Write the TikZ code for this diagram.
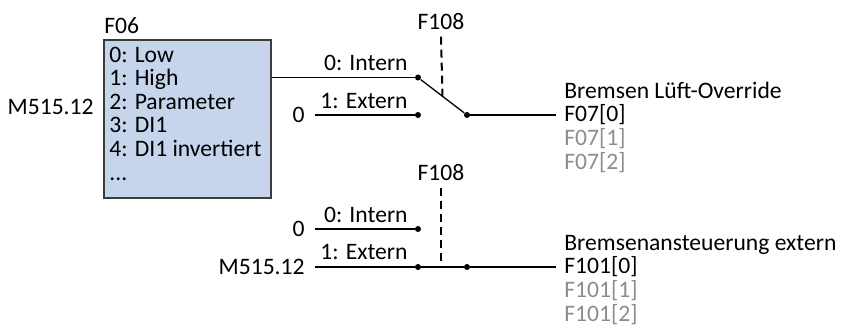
\documentclass[tikz,border=0pt]{standalone}
\usepackage{fontspec}
\setmainfont{Carlito}
\usepackage{xcolor}
\usetikzlibrary{calc}

\definecolor{boxblue}{RGB}{198,213,236}
\definecolor{boxframe}{RGB}{60,60,60}
\definecolor{idxgray}{RGB}{140,140,140}

\begin{document}
\begin{tikzpicture}[x=5pt, y=-5pt,
    font=\fontsize{11.8}{13}\selectfont,
    selbox/.style={draw=boxframe, line width=1pt, fill=boxblue, inner sep=0pt, anchor=north west},
    lbl/.style={inner sep=0pt, anchor=base west},
    rlbl/.style={inner sep=0pt, anchor=base east},
    inlbl/.style={inner ysep=0pt, inner xsep=5pt, anchor=east},
    outlbl/.style={inner ysep=0pt, inner xsep=4pt, anchor=base west},
    idx/.style={lbl, text=idxgray},
    contact/.style={circle, fill=black, inner sep=0pt, minimum size=3pt},
    wire/.style={line width=0.65pt},
    ctrl/.style={line width=1pt, dash pattern=on 4pt off 2.5pt}]
				\useasboundingbox (0,0) rectangle (84.2,33.4);

				% Selection box F06
				\node[lbl] (f06lbl) at (10.4,3.3) {F06};
				\node[selbox, minimum width=83.5pt, minimum height=79pt] (f06) at (10.3,3.9) {};
				\node[lbl] (opt0) at (10.9,6.2) {0: Low};
				\node[lbl] (opt1) at (10.9,8.55) {1: High};
				\node[lbl] (opt2) at (10.9,10.9) {2: Parameter};
				\node[lbl] (opt3) at (10.9,13.25) {3: DI1};
				\node[lbl] (opt4) at (10.9,15.6) {4: DI1 invertiert};
				\node[lbl] (opt5) at (10.9,18.0) {...};
				\node[rlbl] (sig1) at (9.4,11.4) {M515.12};

				% Upper switch
				\node[contact] (s1a) at (41.8,7.75) {};
				\node[contact] (s1b) at (41.8,11.5) {};
				\node[contact] (s1c) at (46.7,11.5) {};
				\node[rlbl] (s1in0) at (40.8,7.0) {0: Intern};
				\node[rlbl] (s1in1) at (40.8,10.8) {1: Extern};
				\node[inlbl] (zero1) at (31.5,11.5) {0};
				\node[anchor=base, inner sep=0pt] (sel1) at (44.1,2.9) {F108};

				\node[lbl] (brk1) at (56.4,9.8) {Bremsen Lüft-Override};
				\node[outlbl] (f070) at (55.6,12.1) {F07[0]};
				\node[idx] (f071) at (56.4,14.55) {F07[1]};
				\node[idx] (f072) at (56.4,16.9) {F07[2]};

				\draw[wire] (f06.east |- s1a) -- (s1a);
				\draw[wire] (zero1.east) -- (s1b);
				\draw[wire] (s1a) -- (s1c);
				\draw[wire] (s1c) -- (s1c -| f070.west);
				\draw[ctrl] ([yshift=-3.5pt]sel1.south) -- ($(s1a)!0.5!(s1c)$);

				% Lower switch
				\node[contact] (s2a) at (41.8,22.9) {};
				\node[contact] (s2b) at (41.8,26.7) {};
				\node[contact] (s2c) at (46.7,26.7) {};
				\node[rlbl] (s2in0) at (40.8,22.2) {0: Intern};
				\node[rlbl] (s2in1) at (40.8,25.9) {1: Extern};
				\node[inlbl] (zero2) at (31.5,22.9) {0};
				\node[inlbl] (sig2) at (31.5,26.7) {M515.12};
				\node[anchor=base, inner sep=0pt] (sel2) at (44.1,18.0) {F108};

				\node[lbl] (brk2) at (56.4,25.0) {Bremsenansteuerung extern};
				\node[outlbl] (f1010) at (55.6,27.3) {F101[0]};
				\node[idx] (f1011) at (56.4,29.75) {F101[1]};
				\node[idx] (f1012) at (56.4,32.1) {F101[2]};

				\draw[wire] (zero2.east) -- (s2a);
				\draw[wire] (sig2.east) -- (s2b) -- (s2c);
				\draw[wire] (s2c) -- (s2c -| f1010.west);
				\draw[ctrl] ([yshift=-3.5pt]sel2.south) -- (s2b -| sel2.south);
\end{tikzpicture}
\end{document}
